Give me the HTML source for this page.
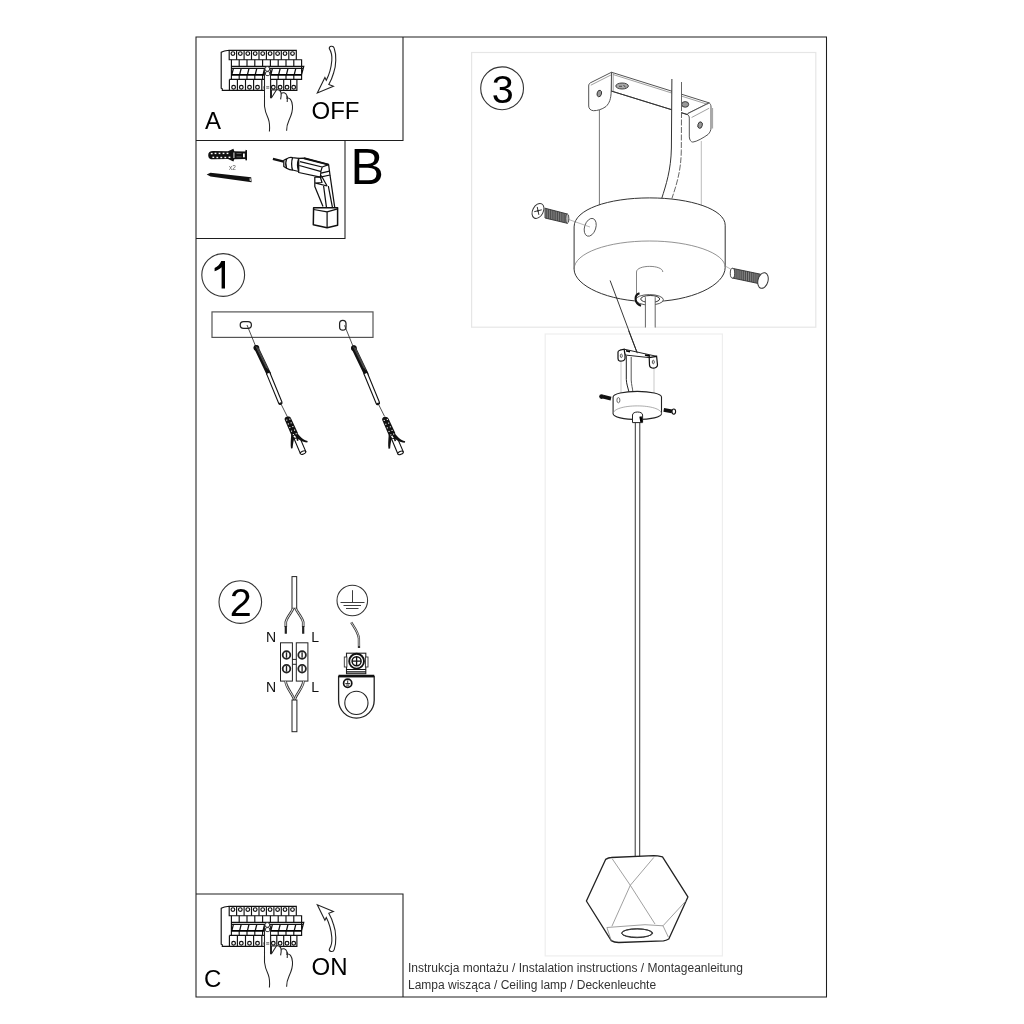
<!DOCTYPE html>
<html><head><meta charset="utf-8">
<style>
html,body{margin:0;padding:0;background:#fff;}
svg{display:block;will-change:transform;}
text{font-family:"Liberation Sans",sans-serif;}
</style></head>
<body>
<svg width="1024" height="1024" viewBox="0 0 1024 1024">
<rect x="0" y="0" width="1024" height="1024" fill="#fff"/>
<!-- light boxes -->
<rect x="471.6" y="52.5" width="344.2" height="274.7" fill="none" stroke="#e6e6e6" stroke-width="1.2"/>
<rect x="545.2" y="334" width="177.2" height="621.9" fill="none" stroke="#eeeeee" stroke-width="1.2"/>
<!-- frames -->
<g fill="none" stroke="#1e1e1e" stroke-width="1.05">
<path d="M196 37 H826.5 V997 H196 Z"/>
<path d="M196 140.5 H403 V37"/>
<path d="M196 238.5 H345 V140.5"/>
<path d="M196 894 H403 V997"/>
</g>
<!-- labels -->
<g fill="#000">
<text x="205" y="128.7" font-size="24">A</text>
<text x="311.5" y="119.2" font-size="24">OFF</text>
<text x="350.5" y="183.6" font-size="50">B</text>
<text x="204" y="986.6" font-size="24">C</text>
<text x="311.5" y="975.3" font-size="24">ON</text>
</g>
<g fill="none" stroke="#333" stroke-width="1.1">
<circle cx="223.2" cy="275" r="21.4"/>
<circle cx="240.3" cy="602.1" r="21.3"/>
<circle cx="502.1" cy="88.3" r="21.4"/>
</g>
<g fill="#000" font-size="39.5">
<path d="M221.3 261 L225 261 L225 288.6 L221.6 288.6 L221.6 267.2 C219.8 268.9 217.4 270.2 214.6 271.2 L214.6 267.9 C217.6 266.6 220 264.3 221.3 261 Z"/>
<text x="229.8" y="615.8">2</text>
<text x="491.8" y="102.6">3</text>
</g>
<g fill="#333" font-size="12">
<text x="408" y="972.3">Instrukcja montażu / Instalation instructions / Montageanleitung</text>
<text x="408" y="988.8">Lampa wisząca / Ceiling lamp / Deckenleuchte</text>
</g>
<!--PANEL-->
<defs>
<g id="panel">
 <g fill="none" stroke="#111" stroke-width="1.15">
  <path d="M229 50.3 L296.3 50.3 L296.3 59.7 M229 50.3 C225 50.6 223 51.2 221.2 52.3 L221.2 88.2 L222.3 88.8 L222.3 90.3 L296.9 90.3 L296.9 79.4"/>
  <path d="M229.2 50.3 L229.2 59.7 L231.4 59.7 M229.4 79.4 H231.4 M236.6 50.3 V59.7 M244.1 50.3 V59.7 M251.5 50.3 V59.7 M259.0 50.3 V59.7 M266.4 50.3 V59.7 M273.9 50.3 V59.7 M281.3 50.3 V59.7 M288.8 50.3 V59.7"/>
  <g stroke-width="1.2"><circle cx="232.9" cy="53.6" r="1.85"/><circle cx="240.3" cy="53.6" r="1.85"/><circle cx="247.8" cy="53.6" r="1.85"/><circle cx="255.2" cy="53.6" r="1.85"/><circle cx="262.7" cy="53.6" r="1.85"/><circle cx="270.1" cy="53.6" r="1.85"/><circle cx="277.6" cy="53.6" r="1.85"/><circle cx="285.0" cy="53.6" r="1.85"/><circle cx="292.5" cy="53.6" r="1.85"/></g>
  <path d="M231.4 59.7 H301.6 V79.4 H231.4 Z M231.4 66.3 H303.8 L301.6 74.9 M231.4 68.3 H303.3"/>
  <path d="M239.2 59.7 V66.3 M239.2 74.9 V79.4 M247.0 59.7 V66.3 M247.0 74.9 V79.4 M254.8 59.7 V66.3 M254.8 74.9 V79.4 M262.6 59.7 V66.3 M262.6 74.9 V79.4 M270.4 59.7 V66.3 M270.4 74.9 V79.4 M278.2 59.7 V66.3 M278.2 74.9 V79.4 M286.0 59.7 V66.3 M286.0 74.9 V79.4 M293.8 59.7 V66.3 M293.8 74.9 V79.4"/>
  <path d="M231.8 74.9 L233.4 68.3 M239.6 74.9 L241.2 68.3 M247.4 74.9 L249.0 68.3 M255.2 74.9 L256.8 68.3 M263.0 74.9 L264.6 68.3 M270.8 74.9 L272.4 68.3 M278.6 74.9 L280.2 68.3 M286.4 74.9 L288.0 68.3 M294.2 74.9 L295.8 68.3" stroke-width="1.3"/>
  <path d="M231.4 74.9 H301.6" stroke-width="1.7" stroke="#000"/>
  <path d="M229.4 79.4 V90.3 M237.4 79.4 V90.3 M245.5 79.4 V90.3 M253.6 79.4 V90.3 M261.8 79.4 V90.3 M270.6 79.4 V90.3 M276.8 79.4 V90.3 M283.7 79.4 V90.3 M290.6 79.4 V90.3"/>
  <g stroke-width="1.2"><circle cx="233.6" cy="87.3" r="1.85"/><circle cx="241.3" cy="87.3" r="1.85"/><circle cx="249.5" cy="87.3" r="1.85"/><circle cx="257.5" cy="87.3" r="1.85"/><circle cx="273.3" cy="87.3" r="1.85"/><circle cx="280.1" cy="87.3" r="1.85"/><circle cx="287" cy="87.3" r="1.85"/><circle cx="293.7" cy="87.3" r="1.85"/></g>
 </g>
 <!-- hand -->
 <path fill="#fff" stroke="#222" stroke-width="1.05" d="M269.4 131.5 C269.8 127 269.8 123 268.3 118.8 C266.4 114.5 265 111.5 264.5 106.2 L264.5 71 C264.5 67.8 270.5 67.8 270.5 71 L270.5 97.7 L271.5 97.7 L271.5 90 L276.4 90 C278.5 89 280.8 90.5 281.2 93.5 C282.5 92.2 286 92.2 287 95.8 C287.3 96.8 287.2 97.6 287 98.2 C289.5 97.5 292 99.5 292.5 106 C292.8 110 292 114 289 120.2 C287.4 123.5 286.6 127 286.6 130.8"/>
 <path fill="none" stroke="#222" stroke-width="1.05" d="M271.5 97.7 L276.4 90 M281.2 93.5 C281.3 95.5 281 97.5 280.6 99.4 M287 96 C287.4 98 287.4 100 287.2 102"/>
 <rect x="265.5" y="71.6" width="4.2" height="4" rx="1.4" fill="#fff" stroke="#222" stroke-width="0.9"/>
 <circle cx="267.3" cy="68.9" r="2.4" fill="#fff" stroke="#222" stroke-width="0.9"/>
 <path d="M266.2 86.7 h3 M266.2 88.2 h3 M264.6 85.8 C263.4 86.5 263.4 88.5 264.6 89.2" stroke="#333" stroke-width="0.7" fill="none"/>
</g>
<path id="arrow" fill="#fff" stroke="#222" stroke-width="1.1" stroke-linejoin="miter" d="M329.3 48.6 C329 46.2 333.2 45 334.2 48.2 C336.5 54.5 336.3 66 333.6 73 C332.3 77.5 330.5 81.5 328.8 84.5 L333.4 86.3 L317.3 93 L324.9 77.5 L326.3 80.3 C329 75 331.2 68 331.8 60.5 C332.2 55.5 331.2 51.5 329.3 48.6 Z"/>
</defs>
<use href="#panel"/>
<use href="#panel" transform="translate(0,856)"/>
<use href="#arrow"/>
<use href="#arrow" transform="translate(0,997.8) scale(1,-1)"/>

<!--/PANEL-->
<!--BOXB-->
<g id="boxB">
 <!-- wall plug -->
 <path fill="#111" d="M208.2 155.2 C208.2 152.2 210 151.1 213 151.1 L228 151.3 L233.4 148.8 L234.3 151.2 L245.2 151.4 L245.7 149.8 L247 150.2 L247 160.3 L245.7 160.6 L245.2 159.1 L234.3 159.3 L233.4 161.5 L228 159.1 L213 159.3 C210 159.3 208.2 158.2 208.2 155.2 Z"/>
 <g fill="#fff">
  <rect x="210.8" y="152.9" width="1.8" height="1.4"/><rect x="214.6" y="152.7" width="1.8" height="1.4"/><rect x="218.6" y="152.7" width="1.8" height="1.4"/><rect x="222.6" y="152.7" width="1.8" height="1.4"/><rect x="226.6" y="152.7" width="1.8" height="1.4"/>
  <rect x="212.4" y="156.6" width="1.8" height="1.4"/><rect x="216.4" y="156.8" width="1.8" height="1.4"/><rect x="220.4" y="156.8" width="1.8" height="1.4"/><rect x="224.4" y="156.8" width="1.8" height="1.4"/><rect x="228.6" y="156.6" width="1.8" height="1.4"/>
  <rect x="233.5" y="152.5" width="0.9" height="5.5"/>
  <rect x="236.5" y="153.4" width="5" height="0.6" fill="#888"/><rect x="236.5" y="156.6" width="5" height="0.6" fill="#888"/>
  <rect x="243" y="153.5" width="1.8" height="3.8"/>
 </g>
 <text x="229" y="169.8" font-size="6.5" fill="#555">x2</text>
 <!-- screw -->
 <path fill="#111" d="M206.7 174.4 L210.5 172.8 L251.2 177.2 L251.6 182.2 L210.5 176.4 Z"/>
 <path fill="#fff" d="M249.6 178.3 L250.6 178.4 L250.8 181 L249.8 180.9 Z"/>
 <!-- drill -->
 <g fill="none" stroke="#111" stroke-width="1.25" stroke-linejoin="round">
  <path d="M272.9 158.8 L283.8 161.6" stroke-width="2.3"/>
  <path d="M283.8 160.2 L286.6 158.9 C289 157.2 291 157.3 292.6 157.7 L298.7 158.4 L298.7 171.5 L292.6 170 C290 170 288 169 286.6 168.2 L283.8 166.5 Z" fill="#fff"/>
  <path d="M286.6 158.9 C285.6 161.5 285.6 165.5 286.6 168.2 M292.6 157.7 C291.3 161 291.3 166.8 292.6 170 M298.7 158.4 C297.4 162 297.4 168 298.7 171.5"/>
  <path d="M298.7 158.4 L304 158.2 L328.6 164.6 L330 175 L320.4 177.2 L298.7 172.5 Z" fill="#fff"/>
  <path d="M304 158.2 L328.6 164.6" stroke-width="2"/>
  <path d="M300 161.7 L322.2 167 L328.6 164.6 M299.3 165.5 L320.4 171.3 M322.2 167 C320.8 170 320.4 174 320.4 177.2 M321 173.2 L329.4 171.2"/>
  <path d="M314.8 177 L314.8 186.6 L323 206.6 M314.8 177 L320.4 177.2 L322 182.5 L314.8 183 M315.8 183.2 L327.1 186 M321.2 175.5 L327.1 186 M323.6 186 L326.5 207.7"/>
  <path d="M330 175 L334.7 207.1 M328.3 186 L332.4 207.1"/>
  <path d="M313.6 207.7 L337.6 207.7 L337.6 225.3 L327.1 227.7 L313.3 224.7 Z" fill="#fff" stroke-width="1.5"/>
  <path d="M313.6 209.5 L327.1 211.8 L337.6 208.9 M327.1 211.8 L327.1 227.7"/>
 </g>
</g>
</g>

<!--/BOXB-->
<!--STEP1-->
<g id="step1">
 <rect x="212" y="311.9" width="161" height="25.5" fill="none" stroke="#555" stroke-width="1.2"/>
 <rect x="240.2" y="321.5" width="11.2" height="6.8" rx="3.4" fill="none" stroke="#222" stroke-width="1.25"/>
 <rect x="339.6" y="320.3" width="6.4" height="9.8" rx="3.2" fill="none" stroke="#222" stroke-width="1.25"/>
 <g id="screwplug">
  <path d="M247 325 L256.2 347.6" stroke="#222" stroke-width="0.8"/>
  <path d="M256.2 347.6 L268.7 373.8" stroke="#111" stroke-width="4.6" stroke-linecap="round"/>
  <circle cx="256.4" cy="347.8" r="2.9" fill="#111"/>
  <path d="M255.9 346.3 L266.6 368 M257.6 347.3 L268.2 369.5" stroke="#888" stroke-width="0.5"/>
  <path d="M268.2 373.2 L280.3 402.6" stroke="#111" stroke-width="4.6" stroke-linecap="round"/>
  <path d="M268.2 373.2 L280.3 402.6" stroke="#fff" stroke-width="2.4"/>
  <path d="M280.3 402.6 L287 416" stroke="#222" stroke-width="0.8"/>
  <path d="M294 438.5 L300.2 453.2 L305.8 451.6 L299.8 437.5 Z" fill="#fff" stroke="#111" stroke-width="1.1"/>
  <ellipse cx="303" cy="452.6" rx="2.9" ry="1.5" transform="rotate(-22 303 452.6)" fill="#fff" stroke="#111" stroke-width="1"/>
  <path d="M287 416.4 C285 417 284.3 418.5 284.7 419.7 L292.2 437.3 L297.9 433 L291.25 418.8 C290.5 417 289 416.2 287 416.4 Z" fill="#111"/>
  <path d="M296 431 C299 436 303 440 307.7 441 L307.3 442.4 C302 442.2 298 439.5 294.8 435.5 Z" fill="#111"/>
  <path d="M291.2 434.5 C290.8 440 290.4 445 291 448.5 L292.6 448.2 C293 444 293.6 440 294.6 437.5 Z" fill="#111"/>
  <path d="M296.2 434 L297.8 440.8" stroke="#111" stroke-width="1.6"/>
  <g fill="#fff"><rect x="286.2" y="419.6" width="1.1" height="1.1"/><rect x="289.3" y="418.6" width="1.1" height="1.1"/><rect x="287.8" y="423.4" width="1.1" height="1.1"/><rect x="290.6" y="422.3" width="1.1" height="1.1"/><rect x="289.3" y="427" width="1.1" height="1.1"/><rect x="292.3" y="426" width="1.1" height="1.1"/><rect x="291" y="430.6" width="1.1" height="1.1"/><rect x="294" y="429.6" width="1.1" height="1.1"/><rect x="292.8" y="434" width="1.1" height="1.1"/><rect x="295.6" y="433.2" width="1.1" height="1.1"/></g>
 </g>
 <use href="#screwplug" transform="translate(97.5,0.3)"/>
</g>

<!--/STEP1-->
<!--STEP2-->
<g id="step2">
 <g fill="none" stroke="#222" stroke-width="1">
  <!-- top cable -->
  <rect x="292" y="576.6" width="4.7" height="31.7"/>
  <!-- wires top -->
  <path d="M293.2 608.3 C292 612 287 617 285.8 622 L285.8 627" stroke="#333" stroke-width="2.6"/>
  <path d="M293.2 608.3 C292 612 287 617 285.8 622 L285.8 627" stroke="#fff" stroke-width="0.9"/>
  <path d="M295.6 608.3 C297 612 302 617 303.2 622 L303.2 627" stroke="#333" stroke-width="2.6"/>
  <path d="M295.6 608.3 C297 612 302 617 303.2 622 L303.2 627" stroke="#fff" stroke-width="0.9"/>
  <path d="M285.8 626 V633.8 M303.2 626 V633.8" stroke="#222" stroke-width="2.2"/>
  <!-- terminal blocks -->
  <rect x="280.5" y="642.8" width="11.9" height="38.3"/>
  <rect x="296.3" y="642.8" width="11.6" height="38.3"/>
  <path d="M292.4 659.4 H296.3 M292.4 664.3 H296.3"/>
  <g stroke-width="1.8">
   <circle cx="286.5" cy="655" r="3.8"/><circle cx="286.5" cy="668.7" r="3.8"/>
   <circle cx="302.1" cy="655" r="3.8"/><circle cx="302.1" cy="668.7" r="3.8"/>
  </g>
  <path d="M286.5 652.3 V657.7 M286.5 666 V671.4 M302.1 652.3 V657.7 M302.1 666 V671.4" stroke-width="1.35"/>
  <!-- wires bottom -->
  <path d="M285.6 681.2 C286 688 293 694 294.2 700" stroke="#333" stroke-width="2.6"/>
  <path d="M285.6 681.2 C286 688 293 694 294.2 700" stroke="#fff" stroke-width="0.9"/>
  <path d="M303.5 681.2 C303 688 296 694 294.6 700" stroke="#333" stroke-width="2.6"/>
  <path d="M303.5 681.2 C303 688 296 694 294.6 700" stroke="#fff" stroke-width="0.9"/>
  <rect x="292" y="700" width="4.9" height="31.7" fill="#fff"/>
 </g>
 <g fill="#111" font-size="14">
  <text x="266" y="641.9">N</text>
  <text x="311.3" y="641.9">L</text>
  <text x="266" y="692.3">N</text>
  <text x="311.3" y="692.3">L</text>
 </g>
 <!-- earth -->
 <circle cx="352.3" cy="600.5" r="15.3" fill="none" stroke="#333" stroke-width="1.05"/>
 <path d="M352.5 590.2 V602.5 M340.5 602.5 H364.5 M343.5 605.5 H361 M346 608.5 H358.5" stroke="#333" stroke-width="0.95" fill="none"/>
 <path d="M351.2 622.4 C354 627 358.5 633 358.9 638.5 L359 648" stroke="#333" stroke-width="2.3" fill="none"/>
 <path d="M351.2 622.4 C354 627 358.5 633 358.9 638.5 L359 646" stroke="#fff" stroke-width="0.8" fill="none"/>
 <!-- lug -->
 <path d="M338.6 676.5 L374.2 676.5 L374.2 700.3 A17.8 17.8 0 0 1 338.6 700.3 Z" fill="#fff" stroke="#222" stroke-width="1.3"/>
 <path d="M338.6 676 L374.2 676" stroke="#111" stroke-width="2.4"/>
 <circle cx="356.4" cy="702.9" r="11.6" fill="none" stroke="#222" stroke-width="1.1"/>
 <circle cx="347.7" cy="683.2" r="4.1" fill="none" stroke="#111" stroke-width="1.7"/>
 <path d="M347.7 680.4 V683.6 M345.3 683.6 H350.1 M346.2 685.1 H349.2" stroke="#111" stroke-width="0.9"/>
 <!-- clamp -->
 <rect x="346.5" y="653.2" width="19.3" height="20.5" fill="#fff" stroke="#222" stroke-width="1.1"/>
 <rect x="344.3" y="657" width="2.6" height="10" fill="#fff" stroke="#333" stroke-width="0.9"/>
 <rect x="365.4" y="657" width="2.6" height="10" fill="#fff" stroke="#333" stroke-width="0.9"/>
 <path d="M346.5 669.5 H365.8 M346.5 671.8 H365.8" stroke="#111" stroke-width="1.2"/>
 <circle cx="356.6" cy="661.2" r="7.4" fill="#fff" stroke="#111" stroke-width="1.9"/>
 <circle cx="356.6" cy="661.2" r="4.5" fill="none" stroke="#111" stroke-width="1.5"/>
 <path d="M356.6 656.8 V665.6 M352.2 661.2 H361" stroke="#111" stroke-width="1.3"/>
</g>

<!--/STEP2-->
<!--STEP3-->
<g id="step3">
 <!-- guide lines -->
 <path d="M599.4 97 V226" stroke="#555" stroke-width="0.8" fill="none"/>
 <path d="M701.3 141 V212" stroke="#aaa" stroke-width="0.8" fill="none"/>
 <!-- bracket -->
 <g fill="#fff" stroke="#4a4a4a" stroke-width="0.95" stroke-linejoin="round">
  <path d="M611.5 72.25 L709.2 102.9 L706.9 104 L688.1 113.4 L687.5 114.6 L611.2 91 Z"/>
  <path d="M590.25 82.9 L611.5 72.25 L611.2 91 C611 99 609.5 103 606 106.5 C602 109.5 597 110.8 593.4 110.7 C590.5 110.5 588.7 108.5 588.7 106 L588.7 86 C588.7 84.5 589.3 83.5 590.25 82.9 Z"/>
  <path d="M687.5 114.6 C688.7 115.2 689.3 116.5 689.3 118.1 L689.3 136.9 C689.5 140 691 142 692.8 142.1 C697 141.5 703 138 708 134.5 C710 132.5 711 130 711 128 L711 107 C711 105 710.3 103.6 709.2 102.9 L706.9 104 L688.1 113.4 Z"/>
 </g>
 <g fill="none" stroke="#777" stroke-width="0.7">
  <path d="M590.8 85.2 L611.3 74.8 M613.2 73.2 V92 M613.3 74.6 L707.5 104.3 M691.6 117.5 L709.2 108.2 M712.6 108 V128.5"/>
 </g>
 <path d="M611.2 91 L687.5 114.6" stroke="#333" stroke-width="1" fill="none"/>
 <ellipse cx="599.3" cy="93.5" rx="2.2" ry="3.3" transform="rotate(15 599.3 93.5)" fill="#999" stroke="#333" stroke-width="0.9"/>
 <ellipse cx="700.1" cy="125.1" rx="2.2" ry="3.3" transform="rotate(15 700.1 125.1)" fill="#999" stroke="#333" stroke-width="0.9"/>
 <ellipse cx="622.1" cy="86" rx="6.3" ry="3" fill="#aaa" stroke="#333" stroke-width="0.9"/>
 <path d="M619 86.3 h3 M623.5 85 L625.5 87.3" stroke="#333" stroke-width="0.8"/>
 <ellipse cx="685.2" cy="104.4" rx="3.5" ry="2.8" fill="#999" stroke="#333" stroke-width="0.9"/>
 <!-- cable -->
 <path d="M671.9 79 L671.4 148 C671 170 666 185 661.7 198.5 L671.9 198.5 C676 186 681 172 681.3 150.8 L681.5 82 Z" fill="#fff" stroke="none"/>
 <path d="M671.9 79 L671.4 148 C671 170 666 185 661.7 198.5" stroke="#333" stroke-width="1" fill="none"/>
 <path d="M681.5 82 V111" stroke="#555" stroke-width="0.9" fill="none"/>
 <path d="M681.5 112 L681.3 150.8 C681 172 676 186 671.9 198.5" stroke="#555" stroke-width="0.9" fill="none" stroke-dasharray="6 1.5"/>
 <!-- canopy -->
 <path d="M574.1 226.9 C574.1 209.5 608 197.9 649.6 197.9 C691 197.9 725.2 209.5 725.2 225.2 L725.2 267.3 C725.2 285.5 691 301.6 649.6 301.6 C608 301.6 574.1 285.5 574.1 269.1 Z" fill="#fff" stroke="#333" stroke-width="1"/>
 <path d="M574.1 269.1 C574.1 253 608 241 649.6 241 C691 241 725.2 253 725.2 267.3" fill="none" stroke="#777" stroke-width="0.8"/>
 <path d="M636.5 299 L636.5 272 C636.5 264.5 662.8 264.5 662.8 272" fill="none" stroke="#666" stroke-width="0.8"/>
 <ellipse cx="590.2" cy="227.3" rx="5.6" ry="9.2" transform="rotate(18 590.2 227.3)" fill="none" stroke="#555" stroke-width="0.9"/>
 <ellipse cx="649.5" cy="299.8" rx="13.9" ry="5.2" fill="#fff" stroke="#444" stroke-width="0.9"/>
 <ellipse cx="650.2" cy="299" rx="9.5" ry="3.5" fill="none" stroke="#333" stroke-width="1"/>
 <path d="M639.5 293.3 C634 295 634 303 641 305.8" fill="none" stroke="#111" stroke-width="2"/>
 <rect x="645.4" y="297.2" width="9.8" height="30.5" fill="#fff"/>
 <path d="M645.4 297.2 V327.5 M655.2 297.2 V327.5" stroke="#555" stroke-width="0.9" fill="none"/>
 <!-- leader line -->
 <path d="M610.1 280.5 L637.3 353.2" stroke="#222" stroke-width="0.9" fill="none"/>
 <!-- screws -->
 <path d="M567.3 219 L590 227" stroke="#888" stroke-width="0.6"/>
 <path d="M545 208.2 L567.3 214 L567.3 223.3 L545 218 Z" fill="#8a8a8a" stroke="#333" stroke-width="0.9"/>
 <path d="M546.8 208.67 V218.43 M548.6 209.14 V218.86 M550.4 209.60 V219.30 M552.2 210.07 V219.73 M554.0 210.54 V220.16 M555.8 211.01 V220.59 M557.6 211.48 V221.02 M559.4 211.94 V221.46 M561.2 212.41 V221.89 M563.0 212.88 V222.32 M564.8 213.35 V222.75 M566.6 213.82 V223.18" stroke="#333" stroke-width="0.75"/>
 <ellipse cx="567.3" cy="218.6" rx="1.6" ry="4.7" fill="#bbb" stroke="#333" stroke-width="0.8"/>
 <ellipse cx="538" cy="210.9" rx="5.3" ry="8" transform="rotate(28 538 210.9)" fill="#fff" stroke="#333" stroke-width="1"/>
 <path d="M537.3 207.3 L538.8 214.5 M534.6 211.6 L541.4 209.9" stroke="#333" stroke-width="1" stroke-linecap="round"/><circle cx="538" cy="210.8" r="1" fill="#333"/>
 <path d="M725.2 266 L732.3 270" stroke="#999" stroke-width="0.7"/>
 <path d="M732.3 268.3 L760.6 274.2 L760.6 284 L732.3 278 Z" fill="#8a8a8a" stroke="#333" stroke-width="0.9"/>
 <path d="M734.2 268.70 V278.40 M736.1 269.10 V278.80 M738.0 269.50 V279.20 M739.9 269.90 V279.60 M741.8 270.30 V280.00 M743.7 270.69 V280.39 M745.6 271.09 V280.79 M747.5 271.49 V281.19 M749.4 271.89 V281.59 M751.3 272.29 V281.99 M753.2 272.69 V282.39 M755.1 273.09 V282.79 M757.0 273.49 V283.19 M758.9 273.89 V283.59" stroke="#333" stroke-width="0.75"/>
 <ellipse cx="732.5" cy="273.2" rx="2.2" ry="4.9" fill="#fff" stroke="#333" stroke-width="0.9"/>
 <ellipse cx="763" cy="280.5" rx="5" ry="8" transform="rotate(15 763 280.5)" fill="#fff" stroke="#333" stroke-width="1"/>
</g>

<!--/STEP3-->
<!--LAMP-->
<g id="lamp">
 <!-- guide lines -->
 <path d="M621 362 V394 M654 366 V394" stroke="#bbb" stroke-width="0.8" fill="none"/>
 <!-- cable in bracket -->
 <path d="M626.3 356 V379.5 C626.5 384 628 388 629 392" stroke="#222" stroke-width="1" fill="none"/>
 <path d="M631.2 357 V380 C631.5 385 632.5 388 632.9 392" stroke="#444" stroke-width="0.9" fill="none"/>
 <!-- bracket -->
 <path d="M624.1 349.2 L656.6 356.3 L655 357.7 L649.2 357.6 L625 355 Z" fill="#fff" stroke="#222" stroke-width="1"/>
 <path d="M626 350.8 L630 351.7 M645 355 L650 356.1" stroke="#000" stroke-width="1.6"/>
 <path d="M618 352 C618 351 619 350.5 620 350.2 L624.1 349.2 L625 355 L625 358.5 C625 360.5 622 361.5 619.5 361 C618.3 360.5 618 359.5 618 358.5 Z" fill="#fff" stroke="#111" stroke-width="1.2"/>
 <path d="M649.2 357.6 L656.6 356.3 L657.5 365 C657.5 367 655 368.5 652 368 C650 367.5 649.5 366 649.5 365 Z" fill="#fff" stroke="#111" stroke-width="1.2"/>
 <ellipse cx="621.3" cy="355.8" rx="1" ry="1.8" fill="none" stroke="#333" stroke-width="0.8"/>
 <ellipse cx="653.3" cy="362" rx="1" ry="1.8" fill="none" stroke="#333" stroke-width="0.8"/>
 <!-- leader line -->
 <path d="M628.6 330.6 L637.3 353.2" stroke="#222" stroke-width="0.9" fill="none"/>
 <!-- canopy -->
 <path d="M613.1 397.1 C613.1 394 624 391.4 637.3 391.4 C650.5 391.4 661.5 394 661.5 397 L661.5 413.8 C661.5 417 650.5 419.5 637.3 419.5 C624 419.5 613.1 417 613.1 413.8 Z" fill="#fff" stroke="#222" stroke-width="1.1"/>
 <path d="M613.1 413.8 C613.1 409 624 405.9 637.3 405.9 C650.5 405.9 661.5 409 661.5 413.8" fill="none" stroke="#888" stroke-width="0.7"/>
 <ellipse cx="618.4" cy="400.2" rx="1.5" ry="2.6" fill="none" stroke="#444" stroke-width="0.8"/>
 <path d="M632.5 422.6 V415 C632.5 411 642.6 411 642.6 415 V422.6 Z" fill="#fff" stroke="#222" stroke-width="1"/>
 <path d="M640.5 416.5 L641.5 422" stroke="#000" stroke-width="2.4"/>
 <!-- screws -->
 <path d="M603 396.6 L611 398.6" stroke="#111" stroke-width="3.8"/>
 <circle cx="601.6" cy="396.6" r="2.4" fill="#111"/>
 <path d="M663.7 409.9 L672 411.4" stroke="#111" stroke-width="3.8"/>
 <ellipse cx="673.8" cy="411.6" rx="1.8" ry="2.6" fill="#fff" stroke="#111" stroke-width="1.1"/>
 <!-- cord -->
 <path d="M635.3 422.6 L635.2 856.5 M639.8 422.6 L639.7 856.5" stroke="#333" stroke-width="1" fill="none"/>
 <!-- lamp shade -->
 <path d="M605.6 859.4 C607.5 858.2 609.5 857.5 611.25 857.5 L653.75 855.6 C656.5 855.6 659.5 856.1 662.5 856.8 L687.9 896.9 L668.8 939 C667 940 665.5 940.6 663.5 940.9 L618.75 942.5 C615.5 942.5 613 941.8 611.25 940.6 L586.4 901 Z" fill="#fff" stroke="#222" stroke-width="1.3" stroke-linejoin="round"/>
 <g stroke="#888" stroke-width="0.8" fill="none">
  <path d="M612.2 858.75 L630.3 885.3 L655 924 M653.75 857.5 L630.3 885.3 L611.9 926.25"/>
  <path d="M606.9 927.5 L645 924.7 L663 925.8 L668.3 937 M606.9 927.5 L611.25 940.6 M663 925.8 L686 900.8"/>
 </g>
 <ellipse cx="637.2" cy="933.1" rx="15.6" ry="4.1" fill="none" stroke="#333" stroke-width="1"/>
</g>
 <ellipse cx="636.8" cy="933.2" rx="15" ry="4.5" fill="none" stroke="#333" stroke-width="1"/>
</g>

<!--/LAMP-->
<!--ILLUSTRATIONS-->
</svg>
</body></html>
